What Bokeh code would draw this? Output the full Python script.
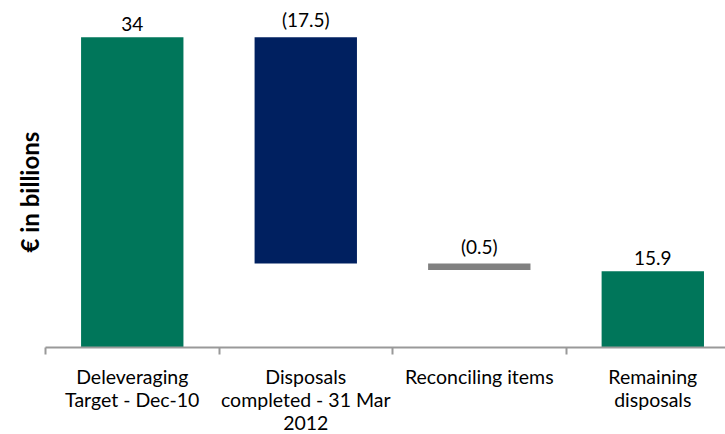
from bokeh.plotting import figure
from bokeh.models import ColumnDataSource, FixedTicker, Range1d, Title
from bokeh.core.properties import value
from bokeh.embed import file_html
from bokeh.resources import INLINE

# Deleveraging waterfall, € billions
categories = [
    "Deleveraging\nTarget - Dec-10",
    "Disposals\ncompleted - 31 Mar\n2012",
    "Reconciling items",
    "Remaining\ndisposals",
]
amounts = [34.0, -17.5, -0.5, 15.9]
kinds = ["total", "delta", "delta", "total"]
colors = ["#00765A", "#002060", "#808080", "#00765A"]

# running totals give each bar its bottom and top
bottoms, tops, texts = [], [], []
running = 0.0
for amt, kind in zip(amounts, kinds):
    if kind == "total":
        lo, hi = 0.0, amt
        running = amt
    else:
        start = running
        running = running + amt
        lo, hi = min(start, running), max(start, running)
    bottoms.append(lo)
    tops.append(hi)
    texts.append(f"({abs(amt):g})" if amt < 0 else f"{amt:g}")

centers = [i + 0.5 for i in range(len(categories))]
label_y = [t + 0.45 for t in tops]

src = ColumnDataSource(dict(x=centers, bottom=bottoms, top=tops, color=colors,
                            label=texts, label_y=label_y))

p = figure(frame_width=680, frame_height=347, output_backend="svg",
           toolbar_location=None, x_range=Range1d(0, 3.919),
           y_range=Range1d(10, 36.84), min_border_left=45, min_border_right=0,
           min_border_top=0, min_border_bottom=0)
p.background_fill_color = "white"
p.border_fill_color = "white"
p.outline_line_color = None
p.xgrid.visible = False
p.ygrid.visible = False
p.yaxis.visible = False

p.vbar(x="x", bottom="bottom", top="top", width=0.59, color="color",
       line_color=None, source=src)

p.text(x="x", y="label_y", text="label", source=src, text_align="center",
       text_baseline="bottom", text_font=value("Lato"),
       text_font_size="19px", text_color="#000000")

ax = p.xaxis[0]
ax.ticker = FixedTicker(ticks=centers, minor_ticks=[0, 1, 2, 3])
ax.major_label_overrides = {c: lab for c, lab in zip(centers, categories)}
ax.major_tick_line_color = None
ax.major_tick_out = 0
ax.major_tick_in = 0
ax.minor_tick_out = 7
ax.minor_tick_in = 0
ax.minor_tick_line_color = "#999999"
ax.minor_tick_line_width = 2
ax.axis_line_color = "#999999"
ax.axis_line_width = 2
ax.major_label_text_font = "Lato"
ax.major_label_text_font_size = "19.5px"
ax.major_label_text_line_height = 1.02
ax.major_label_text_color = "#000000"
ax.major_label_standoff = 10

p.add_layout(Title(text="€ in billions", align="left", offset=95,
                   text_font="Lato", text_font_style="bold",
                   text_font_size="24px", text_color="#000000",
                   standoff=4), "left")

open("out.html", "w").write(file_html(p, INLINE))
